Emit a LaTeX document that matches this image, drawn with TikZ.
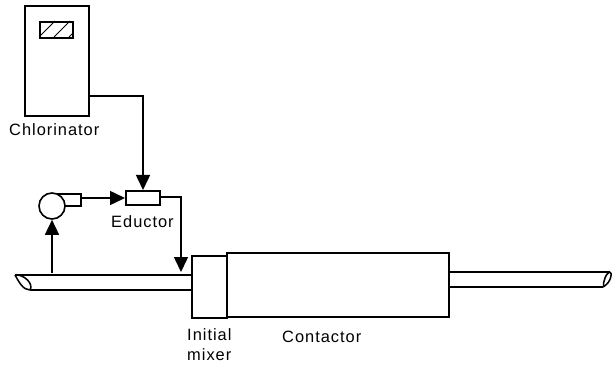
\documentclass[tikz,border=0pt]{standalone}
\usepackage{fontspec}
\setmainfont[LetterSpace=6]{Liberation Sans}
\usetikzlibrary{arrows.meta}
\tikzset{
  unitbox/.style={draw, line width=1.4pt, rectangle, inner sep=0pt, anchor=north west},
  flowline/.style={draw, line width=1.3pt, -{Triangle[length=0.45cm, width=0.42cm]}},
  pipeline/.style={draw, line width=1.3pt},
  tag/.style={font=\fontsize{14}{17}\selectfont, inner sep=0pt, align=left, anchor=west}
}

\begin{document}
\begin{tikzpicture}[x=0.03cm, y=-0.03cm]
      \useasboundingbox (0,0) rectangle (614,369);

      % chlorinator with its window
      \node[unitbox, minimum width=1.92cm, minimum height=3.3cm] (chlorinator) at (24,5) {};
      \node[unitbox, minimum width=0.99cm, minimum height=0.48cm] (window) at (39,21) {};
      \begin{scope}
        \clip (39,21) rectangle (72,37);
        \foreach \x in {39,54,69}
          \draw[thick] (\x,37) -- (\x+16,21);
      \end{scope}
      \node[tag] (chlorinatorlabel) at (9,130) {Chlorinator};

      % pump and eductor
      \node[unitbox, minimum width=1.02cm, minimum height=0.42cm] (eductor) at (125,190) {};
      \node[tag] (eductorlabel) at (111,222) {Eductor};
      \node[unitbox, minimum width=0.84cm, minimum height=0.36cm] (outlet) at (52,193) {};
      \node[draw, line width=1.4pt, circle, fill=white, minimum size=0.78cm, inner sep=0pt] (pump) at (52,206) {};

      % initial mixer and contactor
      \node[unitbox, minimum width=1.05cm, minimum height=1.86cm] (mixer) at (191,255) {};
      \node[unitbox, minimum width=6.66cm, minimum height=1.92cm] (contactor) at (226,252) {};
      \node[tag] (mixerlabel) at (187,345) {Initial\\mixer};
      \node[tag] (contactorlabel) at (282,337) {Contactor};

      % pipes
      \coordinate (inlettop) at (15,275);
      \coordinate (inletbottom) at (30,290);
      \coordinate (outlettop) at (610,272);
      \coordinate (outletbottom) at (603,287);
      \draw[pipeline] (inlettop) -- (mixer.west |- inlettop);
      \draw[pipeline] (inletbottom) -- (mixer.west |- inletbottom);
      \draw[pipeline] (inlettop) .. controls (19,282) and (23,290) .. (inletbottom);
      \draw[pipeline] (inlettop) .. controls (24,274) and (34,284) .. (inletbottom);
      \draw[pipeline] (contactor.east |- outlettop) -- (outlettop);
      \draw[pipeline] (contactor.east |- outletbottom) -- (outletbottom);
      \draw[pipeline] (outlettop) .. controls (607,272) and (602,282) .. (604,287);
      \draw[pipeline] (outlettop) .. controls (612,272) and (612,282) .. (outletbottom);

      % flows
      \coordinate (tapping) at (52,273);
      \draw[flowline] (tapping) -- (pump.south);
      \draw[flowline] (outlet.east |- 0,198) -- (eductor.west |- 0,198);
      \draw[flowline] (chlorinator.east |- 0,96) -| (eductor.north -| 143,0);
      \coordinate (injection) at (181,272);
      \draw[flowline] (eductor.east |- 0,197) -| (injection);
\end{tikzpicture}
\end{document}
